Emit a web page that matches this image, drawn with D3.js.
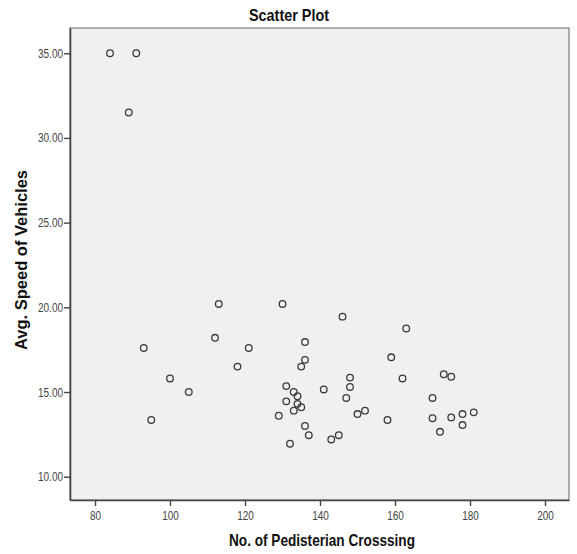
<!DOCTYPE html>
<html>
<head>
<meta charset="utf-8">
<script src="https://cdn.jsdelivr.net/npm/d3@7"></script>
<style>
  html, body { margin: 0; padding: 0; background: #ffffff; }
  svg { display: block; }
</style>
</head>
<body>
<svg id="chart" width="577" height="554"></svg>
<script>
// ---- data ----
const title = "Scatter Plot";
const xLabel = "No. of Pedisterian Crosssing";
const yLabel = "Avg. Speed of Vehicles";
const xTicks = [80, 100, 120, 140, 160, 180, 200];
const yTicks = [10, 15, 20, 25, 30, 35];
const pedestrianCrossings = [
  84, 91, 89, 113, 112, 93, 121, 118, 100, 105, 95,
  130, 146, 163, 136, 136, 135, 159, 162, 173, 175,
  131, 148, 148, 141, 133, 134, 131, 134, 135, 133,
  147, 129, 150, 152, 158, 136, 137, 132, 143, 145,
  170, 170, 172, 175, 178, 178, 181
];
const avgSpeed = [
  35.0, 35.0, 31.5, 20.2, 18.2, 17.6, 17.6, 16.5, 15.8, 15.0, 13.35,
  20.2, 19.45, 18.75, 17.95, 16.9, 16.5, 17.05, 15.8, 16.05, 15.9,
  15.35, 15.85, 15.3, 15.15, 15.0, 14.75, 14.45, 14.3, 14.1, 13.9,
  14.65, 13.6, 13.7, 13.9, 13.35, 13.0, 12.45, 11.95, 12.2, 12.45,
  14.65, 13.45, 12.65, 13.5, 13.7, 13.05, 13.8
];
const points = pedestrianCrossings.map((x, i) => ({ x, y: avgSpeed[i] }));

// ---- layout ----
const svg = d3.select("#chart");
const frame = { left: 70, right: 569, top: 28, bottom: 500 };

const x = d3.scaleLinear().domain([73.33, 206.4]).range([frame.left, frame.right]);
const y = d3.scaleLinear().domain([8.625, 36.49]).range([frame.bottom, frame.top]);

// condense text horizontally (narrow font look)
function condense(sel, factor) {
  sel.each(function () {
    const w = this.getComputedTextLength();
    d3.select(this).attr("textLength", w * factor).attr("lengthAdjust", "spacingAndGlyphs");
  });
}
function fitTo(sel, width) {
  sel.attr("textLength", width).attr("lengthAdjust", "spacingAndGlyphs");
}

// plot area
svg.append("rect")
  .attr("x", frame.left).attr("y", frame.top)
  .attr("width", frame.right - frame.left)
  .attr("height", frame.bottom - frame.top)
  .attr("fill", "#f0f0f0")
  .attr("stroke", "#7a7a7a")
  .attr("stroke-width", 1.2);

const baseFont = "'Liberation Sans', Arial, sans-serif";

// x axis
const gx = svg.append("g")
  .attr("transform", `translate(0,${frame.bottom})`)
  .call(d3.axisBottom(x).tickValues(xTicks).tickSize(6).tickSizeOuter(0).tickPadding(5).tickFormat(d3.format("d")));
gx.select(".domain").attr("stroke", "#444").attr("stroke-width", 1.6);
gx.selectAll(".tick line").attr("stroke", "#444").attr("stroke-width", 1.4);
gx.selectAll(".tick text").attr("fill", "#444").style("font-family", baseFont).style("font-size", "12.5px")
  .call(condense, 0.8);

// y axis
const gy = svg.append("g")
  .attr("transform", `translate(${frame.left},0)`)
  .call(d3.axisLeft(y).tickValues(yTicks).tickSize(6).tickSizeOuter(0).tickPadding(1).tickFormat(d3.format(".2f")));
gy.select(".domain").attr("stroke", "#444").attr("stroke-width", 1.6);
gy.selectAll(".tick line").attr("stroke", "#444").attr("stroke-width", 1.4);
gy.selectAll(".tick text").attr("fill", "#444").style("font-family", baseFont).style("font-size", "12.5px")
  .call(condense, 0.8);

// points
svg.append("g").selectAll("circle")
  .data(points)
  .join("circle")
  .attr("cx", d => x(d.x))
  .attr("cy", d => y(d.y))
  .attr("r", 3.3)
  .attr("fill", "none")
  .attr("stroke", "#3a3a3a")
  .attr("stroke-width", 1.3);

// title
svg.append("text")
  .attr("x", 289).attr("y", 21)
  .attr("text-anchor", "middle")
  .style("font-family", baseFont)
  .style("font-weight", "bold")
  .style("font-size", "17px")
  .attr("fill", "#111")
  .text(title)
  .call(fitTo, 80);

// x label
svg.append("text")
  .attr("x", 322).attr("y", 546)
  .attr("text-anchor", "middle")
  .style("font-family", baseFont)
  .style("font-weight", "bold")
  .style("font-size", "17px")
  .attr("fill", "#111")
  .text(xLabel)
  .call(fitTo, 186);

// y label
svg.append("text")
  .attr("transform", "translate(27,260) rotate(-90)")
  .attr("text-anchor", "middle")
  .style("font-family", baseFont)
  .style("font-weight", "bold")
  .style("font-size", "16px")
  .attr("fill", "#111")
  .text(yLabel)
  .call(fitTo, 180);
</script>
</body>
</html>
